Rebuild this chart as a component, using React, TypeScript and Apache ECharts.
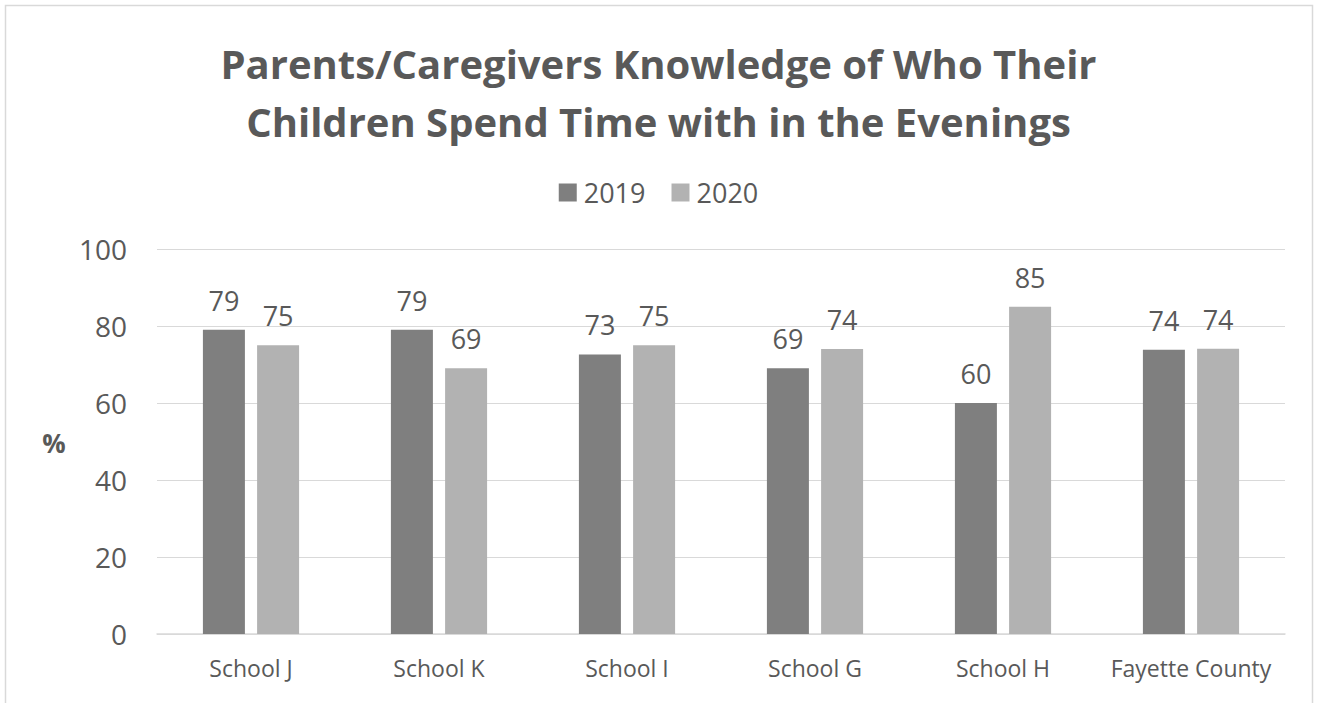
import React, { useEffect, useRef } from "react";
import * as echarts from "echarts";

const categories = ["School J", "School K", "School I", "School G", "School H", "Fayette County"];
const series2019 = [79, 79, 72.6, 69, 60, 73.8];
const series2020 = [75, 69, 75, 74, 85, 74.1];
const seriesNames = ["2019", "2020"];
const yTicks = { min: 0, max: 100, interval: 20 };
const titleText = "Parents/Caregivers Knowledge of Who Their\nChildren Spend Time with in the Evenings";

const FONT = "'Open Sans', 'Noto Sans', sans-serif";
const TXT = "#595959";

export default function App() {
  const ref = useRef<HTMLDivElement>(null);
  useEffect(() => {
    document.body.style.margin = "0";
    const chart = echarts.init(ref.current!, null, { renderer: "svg" });
    const label = {
      show: true,
      position: "top" as const,
      distance: 16,
      color: TXT,
      fontSize: 27,
      fontFamily: FONT,
      formatter: (p: any) => Math.round(p.value).toString(),
    };
    chart.setOption({
      animation: false,
      backgroundColor: "#ffffff",
      title: {
        text: titleText,
        left: "center",
        top: 29,
        textStyle: {
          color: TXT,
          fontSize: 40,
          fontWeight: "bold",
          fontFamily: FONT,
          lineHeight: 58,
        },
      },
      legend: {
        data: seriesNames,
        top: 174,
        left: "center",
        itemWidth: 18,
        itemHeight: 18,
        itemGap: 26,
        icon: "rect",
        textStyle: { color: TXT, fontSize: 27, fontFamily: FONT, padding: [0, 0, 0, 2] },
      },
      graphic: [
        {
          type: "rect",
          shape: { x: 5.5, y: 5.5, width: 1307, height: 720 },
          style: { fill: "none", stroke: "#d9d9d9", lineWidth: 1.5 },
          silent: true,
        },
        {
          type: "text",
          x: 54,
          y: 443,
          style: {
            text: "%",
            fill: TXT,
            fontSize: 26,
            fontWeight: "bold",
            fontFamily: FONT,
            align: "center",
            verticalAlign: "middle",
          },
        },
      ],
      grid: { left: 157, right: 32, top: 249, bottom: 69, containLabel: false },
      xAxis: {
        type: "category",
        data: categories,
        axisLine: { lineStyle: { color: "#d9d9d9", width: 1.5 } },
        axisTick: { show: false },
        axisLabel: {
          color: TXT,
          fontSize: 23,
          fontFamily: FONT,
          margin: 22,
          interval: 0,
          hideOverlap: false,
        },
      },
      yAxis: {
        type: "value",
        min: yTicks.min,
        max: yTicks.max,
        interval: yTicks.interval,
        axisLine: { show: false },
        axisTick: { show: false },
        splitLine: { lineStyle: { color: "#d9d9d9", width: 1.2 } },
        axisLabel: { color: TXT, fontSize: 28, fontFamily: FONT, margin: 30 },
      },
      series: [
        {
          name: seriesNames[0],
          type: "bar",
          data: series2019,
          barWidth: 42,
          barGap: "29%",
          itemStyle: { color: "#7f7f7f" },
          label,
        },
        {
          name: seriesNames[1],
          type: "bar",
          data: series2020,
          barWidth: 42,
          itemStyle: { color: "#b2b2b2" },
          label,
        },
      ],
    });
    return () => chart.dispose();
  }, []);
  return <div ref={ref} style={{ width: 1317, height: 703 }} />;
}
